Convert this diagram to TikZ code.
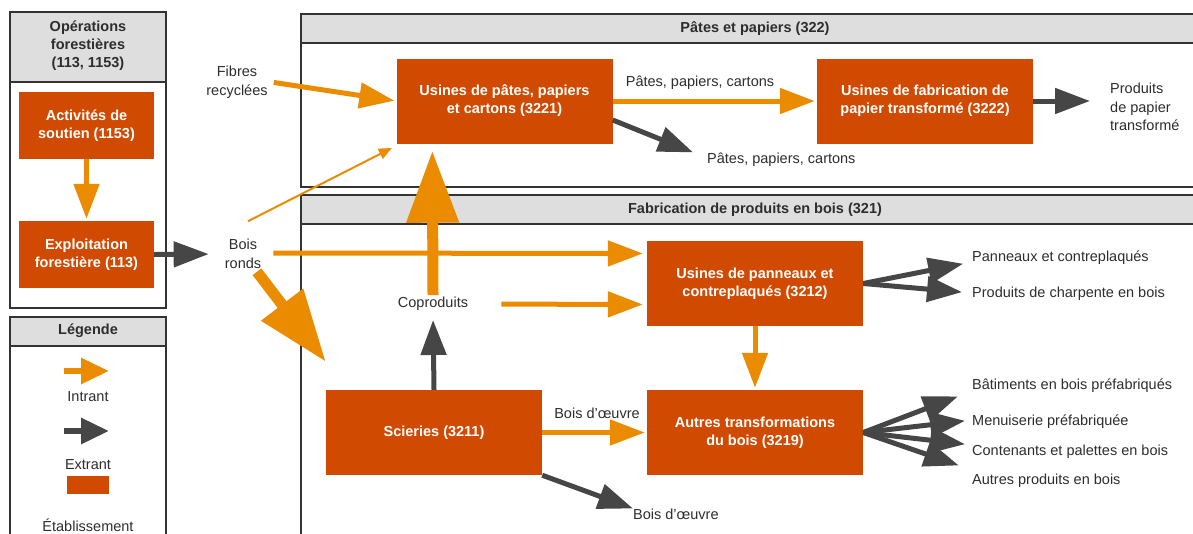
\documentclass[tikz,border=0pt]{standalone}
\usepackage{fontspec}
\setmainfont{Liberation Sans}
\usetikzlibrary{arrows.meta,positioning,calc}
\definecolor{boxorange}{HTML}{D04A02}
\definecolor{arroworange}{HTML}{EB8C00}
\definecolor{arrowgray}{HTML}{464646}
\definecolor{framegray}{HTML}{333333}
\definecolor{headgray}{HTML}{DEDEDE}
\definecolor{textgray}{HTML}{2D2D2D}
\tikzset{
  etab/.style={fill=boxorange, text=white, font=\bfseries\fontsize{14.5}{18}\selectfont, align=center, inner sep=0pt, minimum width=216pt, minimum height=85pt},
  lbl/.style={text=textgray, font=\fontsize{14.5}{18.5}\selectfont, align=center, inner sep=3pt},
  hdr/.style={text=textgray, font=\bfseries\fontsize{14.5}{18}\selectfont, align=center},
  panelframe/.style={draw=framegray, line width=1.5pt},
  panelhead/.style={fill=headgray, draw=framegray, line width=1.5pt},
  intrant/.style={draw=arroworange, line width=5pt, -{Triangle[length=35pt,width=25pt]}},
  extrant/.style={draw=arrowgray, line width=5pt, -{Triangle[length=35pt,width=25pt]}},
  bigintrant/.style={draw=arroworange, line width=11pt, -{Triangle[length=72pt,width=50pt]}},
  thinintrant/.style={draw=arroworange, line width=2pt, -{Triangle[length=13pt,width=11pt]}},
  legarrow/.style={line width=6pt, -{Triangle[length=28pt,width=25pt]}}
}
\begin{document}
\begin{tikzpicture}[x=1pt,y=-1pt]
    \useasboundingbox (0,0) rectangle (1193,533);
    \clip (0,0) rectangle (1193,533);
    % panels
    \draw[panelhead] (10,12) rectangle (166,82);
    \draw[panelframe] (10,12) rectangle (166,308);
    \draw[panelhead] (10,317) rectangle (166,346);
    \draw[panelframe] (10,317) rectangle (166,545);
    \draw[panelhead] (301,14) rectangle (1205,43);
    \draw[panelframe] (301,14) rectangle (1205,187);
    \draw[panelhead] (301,195) rectangle (1205,224);
    \draw[panelframe] (301,195) rectangle (1205,545);
    \node[hdr] (ophead) at (88,46) {Opérations\\forestières\\(113, 1153)};
    \node[hdr] (leghead) at (88,331) {Légende};
    \node[hdr] (pphead) at (755,29) {Pâtes et papiers (322)};
    \node[hdr] (pbhead) at (755,210) {Fabrication de produits en bois (321)};
    % legend
    \draw[legarrow, draw=arroworange] (64,371) -- (109,371);
    \node[lbl] (intr) at (88,397) {Intrant};
    \draw[legarrow, draw=arrowgray] (64,431) -- (109,431);
    \node[lbl] (extr) at (88,465) {Extrant};
    \fill[boxorange] (67,476) rectangle (109,494);
    \node[lbl] (etb) at (88,525) {Établissement};
    % establishments
    \node[etab, minimum width=135pt, minimum height=67pt] (act) at (86.5,125.5) {Activités de\\soutien (1153)};
    \node[etab, minimum width=135pt, minimum height=67pt] (expl) at (86.5,254.5) {Exploitation\\forestière (113)};
    \node[etab] (usp) at (504.5,101) {Usines de pâtes, papiers\\et cartons (3221)};
    \node[etab] (fab) at (925,101) {Usines de fabrication de\\papier transformé (3222)};
    \node[etab] (pan) at (755,283.5) {Usines de panneaux et\\contreplaqués (3212)};
    \node[etab] (sci) at (434,432.5) {Scieries (3211)};
    \node[etab] (aut) at (755,432.5) {Autres transformations\\du bois (3219)};
    % flows
    \node[lbl] (fib) at (237,82) {Fibres\\recyclées};
    \node[lbl] (bois) at (243,254) {Bois\\ronds};
    \node[lbl] (copro) at (433,304) {Coproduits};
    \node[lbl] (ppc1) at (700,83) {Pâtes, papiers, cartons};
    \node[lbl, anchor=west, inner sep=0pt] (ppc2) at (707,160) {Pâtes, papiers, cartons};
    \node[lbl, anchor=west, inner sep=0pt, align=left] (prod) at (1110,107) {Produits\\de papier\\transformé};
    \node[lbl] (bo1) at (597,413) {Bois d’œuvre};
    \node[lbl, anchor=west, inner sep=0pt] (bo2) at (633,514) {Bois d’œuvre};
    \node[lbl, anchor=west, inner sep=0pt] (lp1) at (972,258) {Panneaux et contreplaqués};
    \node[lbl, anchor=west, inner sep=0pt] (lp2) at (972,294) {Produits de charpente en bois};
    \node[lbl, anchor=west, inner sep=0pt] (la1) at (972,386) {Bâtiments en bois préfabriqués};
    \node[lbl, anchor=west, inner sep=0pt] (la2) at (972,422) {Menuiserie préfabriquée};
    \node[lbl, anchor=west, inner sep=0pt] (la3) at (972,452) {Contenants et palettes en bois};
    \node[lbl, anchor=west, inner sep=0pt] (la4) at (972,481) {Autres produits en bois};
    \draw[intrant, shorten >=2pt] (act.south) -- (expl.north);
    \draw[extrant, shorten >=13pt] (expl.east) -- (bois.west);
    \draw[intrant, shorten <=3pt, shorten >=2pt] (fib.east) -- (usp.west);
    \draw[thinintrant, shorten >=5pt] ([xshift=5pt,yshift=15pt]bois.north) -- ([yshift=-2pt]usp.south west);
    \draw[intrant, shorten <=9pt, shorten >=4pt] ([yshift=1pt]bois.east) -- ([yshift=30pt]pan.west);
    \draw[bigintrant] ([xshift=14pt]bois.south) -- ([yshift=28pt]sci.north west);
    \draw[bigintrant, shorten <=-1pt, shorten >=7pt] (copro.north) -- ([xshift=36pt]usp.south west);
    \draw[intrant, shorten <=30pt, shorten >=4pt] (copro.east) -- ([yshift=-21pt]pan.west);
    \draw[extrant, shorten >=6pt] (sci.north) -- (copro.south);
    \draw[intrant, shorten >=2pt] (sci.east) -- (aut.west);
    \draw[extrant] (sci.south east) -- (bo2.north west);
    \draw[intrant, shorten >=2pt] (pan.south) -- (aut.north);
    \draw[intrant, shorten >=2pt] (usp.east) -- (fab.west);
    \draw[extrant, shorten >=15pt] ([yshift=-19pt]usp.east) -- ([yshift=2pt]ppc2.west);
    \draw[extrant, shorten >=20pt] (fab.east) -- ([yshift=6pt]prod.west);
    \draw[extrant, shorten >=9pt] (pan.east) -- ([yshift=-4pt]lp1.west);
    \draw[extrant, shorten >=10pt] (pan.east) -- ([yshift=1pt]lp2.west);
    \draw[extrant, shorten >=15pt] (aut.east) -- ([yshift=-5pt]la1.west);
    \draw[extrant, shorten >=7pt] (aut.east) -- ([yshift=2pt]la2.west);
    \draw[extrant, shorten >=7pt] (aut.east) -- ([yshift=7pt]la3.west);
    \draw[extrant, shorten >=14pt] (aut.east) -- ([yshift=11pt]la4.west);
\end{tikzpicture}
\end{document}
